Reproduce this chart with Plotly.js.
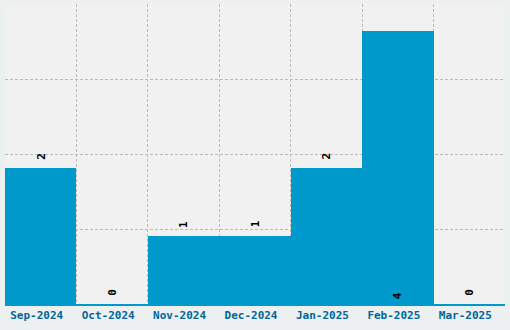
<!DOCTYPE html>
<html><head><meta charset="utf-8">
<script src="https://cdn.plot.ly/plotly-3.0.1.min.js"></script>
<style>html,body{margin:0;padding:0;background:#ecf0f1;}#c{width:510px;height:330px;}</style>
</head><body><div id="c"></div>
<script>
const categories = ["Sep-2024","Oct-2024","Nov-2024","Dec-2024","Jan-2025","Feb-2025","Mar-2025"];
const values = [2,0,1,1,2,4,0];
const labelInside = [false,false,false,false,false,true,false];

const annotations = categories.map((c, i) => ({
  x: c,
  y: labelInside[i] ? 0 : values[i],
  xref: "x", yref: "y",
  text: String(values[i]),
  showarrow: false,
  textangle: -90,
  xanchor: "center",
  yanchor: "bottom",
  yshift: labelInside[i] ? 3 : 6,
  font: {family: "DejaVu Sans Mono, monospace", size: 11, color: "#000", weight: "bold"}
}));

Plotly.newPlot("c", [{
  type: "bar",
  x: categories,
  y: values,
  marker: {color: "#0099cc", line: {width: 0}},
  hoverinfo: "none"
}], {
  width: 510, height: 330,
  margin: {l: 5, r: 5, t: 4, b: 26},
  paper_bgcolor: "#ecf0f1",
  plot_bgcolor: "#f1f1f1",
  bargap: 0,
  showlegend: false,
  annotations: annotations,
  xaxis: {
    type: "category",
    tickson: "boundaries",
    showgrid: true,
    gridcolor: "#bbbbbb",
    griddash: "3px,2px",
    gridwidth: 1,
    ticks: "",
    ticklabelshift: -4,
    showline: true,
    linecolor: "#0099cc",
    linewidth: 2,
    layer: "above traces",
    tickfont: {family: "DejaVu Sans Mono, monospace", size: 11, color: "#006699", weight: "bold"}
  },
  yaxis: {
    range: [0, 4.4],
    tick0: 0,
    dtick: 1.1,
    showticklabels: false,
    showgrid: true,
    gridcolor: "#bbbbbb",
    griddash: "3px,2px",
    zeroline: false,
    layer: "above traces",
    ticks: ""
  }
}, {staticPlot: true});
</script></body></html>
